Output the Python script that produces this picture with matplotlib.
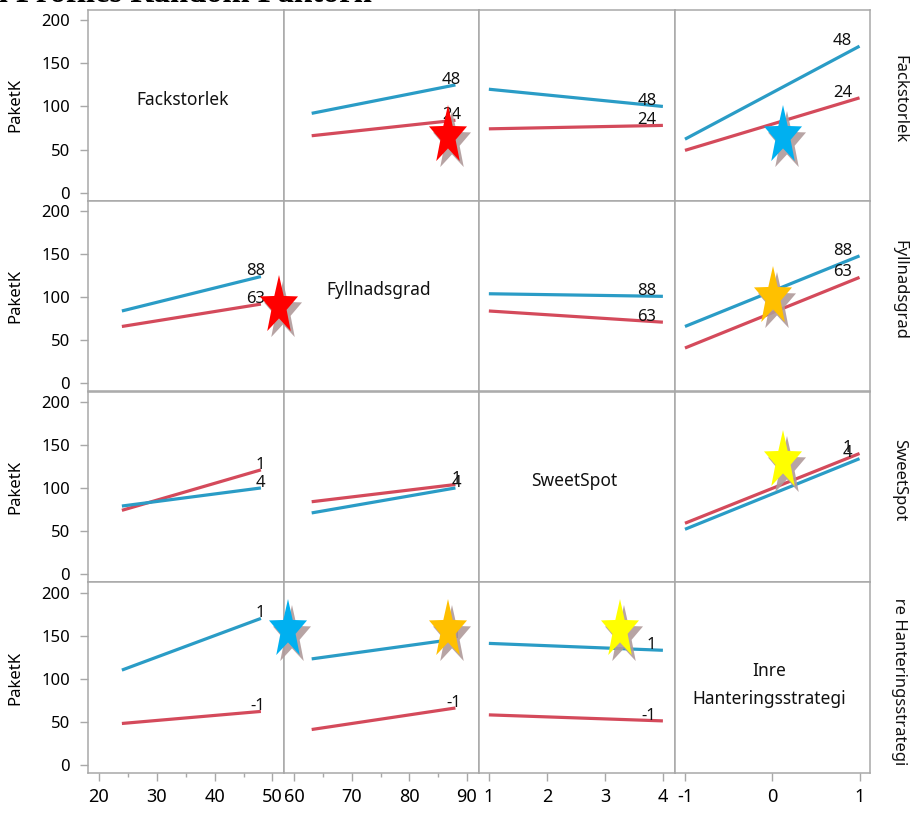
import numpy as np
import matplotlib.pyplot as plt
from matplotlib.patches import Polygon
from matplotlib.transforms import blended_transform_factory

plt.rcParams["font.family"] = ["Noto Sans", "DejaVu Sans"]
plt.rcParams["axes.unicode_minus"] = False

# faktorer och deras nivåer
factors = ["Fackstorlek", "Fyllnadsgrad", "SweetSpot", "Inre\nHanteringsstrategi"]
row_names = ["Fackstorlek", "Fyllnadsgrad", "SweetSpot", "Inre Hanteringsstrategi"]
x_levels = [(24, 48), (63, 88), (1, 4), (-1, 1)]
trace_labels = [("24", "48"), ("63", "88"), ("1", "4"), ("-1", "1")]

# PaketK vid låg/hög nivå på x-faktorn, per rad (spårfaktor) och kolumn
low_trace = {
    (0, 1): (66, 84), (0, 2): (74, 78), (0, 3): (49, 110),
    (1, 0): (66, 92), (1, 2): (84, 71), (1, 3): (41, 123),
    (2, 0): (74, 121), (2, 1): (84, 104), (2, 3): (59, 140),
    (3, 0): (48, 62), (3, 1): (41, 66), (3, 2): (58, 51),
}
high_trace = {
    (0, 1): (92, 125), (0, 2): (120, 100), (0, 3): (62, 170),
    (1, 0): (84, 124), (1, 2): (104, 101), (1, 3): (66, 148),
    (2, 0): (79, 100), (2, 1): (71, 100), (2, 3): (52, 134),
    (3, 0): (110, 170), (3, 1): (123, 146), (3, 2): (141, 133),
}

# stjärnmarkeringar (pixelposition, färg)
stars = [
    (448, 136, "#ff0000"), (783, 136, "#00b0f0"),
    (279, 306, "#ff0000"), (773, 297, "#ffc000"),
    (783, 461, "#ffff00"),
    (288, 630, "#00b0f0"), (448, 630, "#ffc000"), (620, 630, "#ffff00"),
]

x_lims = [(18.15, 51.9), (58.1, 92.1), (0.83, 4.2), (-1.12, 1.12)]
x_ticks = [[20, 30, 40, 50], [60, 70, 80, 90], [1, 2, 3, 4], [-1, 0, 1]]
x_minor = [[25, 35, 45], [65, 75, 85], [], []]

RED = "#d44a5b"
BLUE = "#2a9cc6"
GRID = "#a8a8a8"

W, H = 912, 813
fig, axes = plt.subplots(4, 4, figsize=(W / 100, H / 100), dpi=100)
fig.subplots_adjust(left=88 / W, right=870 / W, top=1 - 10 / H, bottom=1 - 773 / H,
                    wspace=0, hspace=0)

for r in range(4):
    for c in range(4):
        ax = axes[r, c]
        ax.set_xlim(*x_lims[c])
        ax.set_ylim(-9.5, 212)
        for s in ax.spines.values():
            s.set_color(GRID)
            s.set_linewidth(1.1)
        ax.tick_params(which="both", direction="out", color=GRID, width=1)
        ax.tick_params(axis="y", length=6, labelsize=12, pad=7)
        ax.tick_params(axis="x", which="major", length=6, labelsize=13, pad=5)
        ax.tick_params(axis="x", which="minor", length=3)
        ax.set_xticks(x_ticks[c])
        ax.set_xticks(x_minor[c], minor=True)
        ax.set_yticks([0, 50, 100, 150, 200])
        if c != 0:
            ax.tick_params(axis="y", left=False, labelleft=False)
        else:
            ax.set_ylabel("PaketK", fontsize=12)
            ax.yaxis.set_label_coords(-0.33, 0.5)
        if r != 3:
            ax.tick_params(axis="x", which="both", bottom=False, labelbottom=False)

        if r == c:
            ypos = 0.46 if r == 3 else 0.53
            ax.text(0.485, ypos, factors[r], transform=ax.transAxes, ha="center",
                    va="center", fontsize=12.5, linespacing=1.7, color="#111111")
            continue

        xs = x_levels[c]
        trans = blended_transform_factory(ax.transAxes, ax.transData)
        for vals, col, lab in [(low_trace[(r, c)], RED, trace_labels[r][0]),
                               (high_trace[(r, c)], BLUE, trace_labels[r][1])]:
            ax.plot(xs, vals, color=col, lw=2.3, solid_capstyle="butt")
            ax.text(0.908, vals[1] + 1.5, lab, transform=trans, ha="right",
                    va="baseline", fontsize=12, color="#111111")

# radetiketter till höger, klippta mot radens höjd
row_top = 10
row_h = (773 - 10) / 4
label_y = [0.59, 0.59, 0.59, 0.573]
for r in range(4):
    top = row_top + r * row_h + 18
    bot = row_top + (r + 1) * row_h
    sax = fig.add_axes([870 / W, 1 - bot / H, 42 / W, (bot - top) / H])
    sax.set_axis_off()
    sax.text(0.70, label_y[r], row_names[r], rotation=270, ha="center", va="center",
             fontsize=12, color="#111111", clip_on=True, transform=sax.transAxes)

fig.text(372 / W, 1 - 2.5 / H, "Interaction Profiles Random Faktorn", ha="right",
         va="baseline", fontsize=23.5, fontweight="bold", family="Liberation Serif")

# stjärnor med skugga ovanpå allt
over = fig.add_axes([0, 0, 1, 1], zorder=10)
over.set_xlim(0, W)
over.set_ylim(H, 0)
over.set_axis_off()
over.patch.set_alpha(0)


def star_points(cx, cy, rx=20, sy=1.55, inner=0.4):
    ang = np.pi / 2 + np.arange(10) * np.pi / 5
    rad = np.where(np.arange(10) % 2 == 0, rx, rx * inner)
    return np.column_stack([cx + rad * np.cos(ang), cy - rad * np.sin(ang) * sy])


for cx, cy, col in stars:
    over.add_patch(Polygon(star_points(cx + 4, cy + 6), closed=True,
                           facecolor="#b09a9a", edgecolor="none", alpha=0.9))
    over.add_patch(Polygon(star_points(cx, cy), closed=True,
                           facecolor=col, edgecolor="none"))

fig.savefig("out.png", dpi=100)
